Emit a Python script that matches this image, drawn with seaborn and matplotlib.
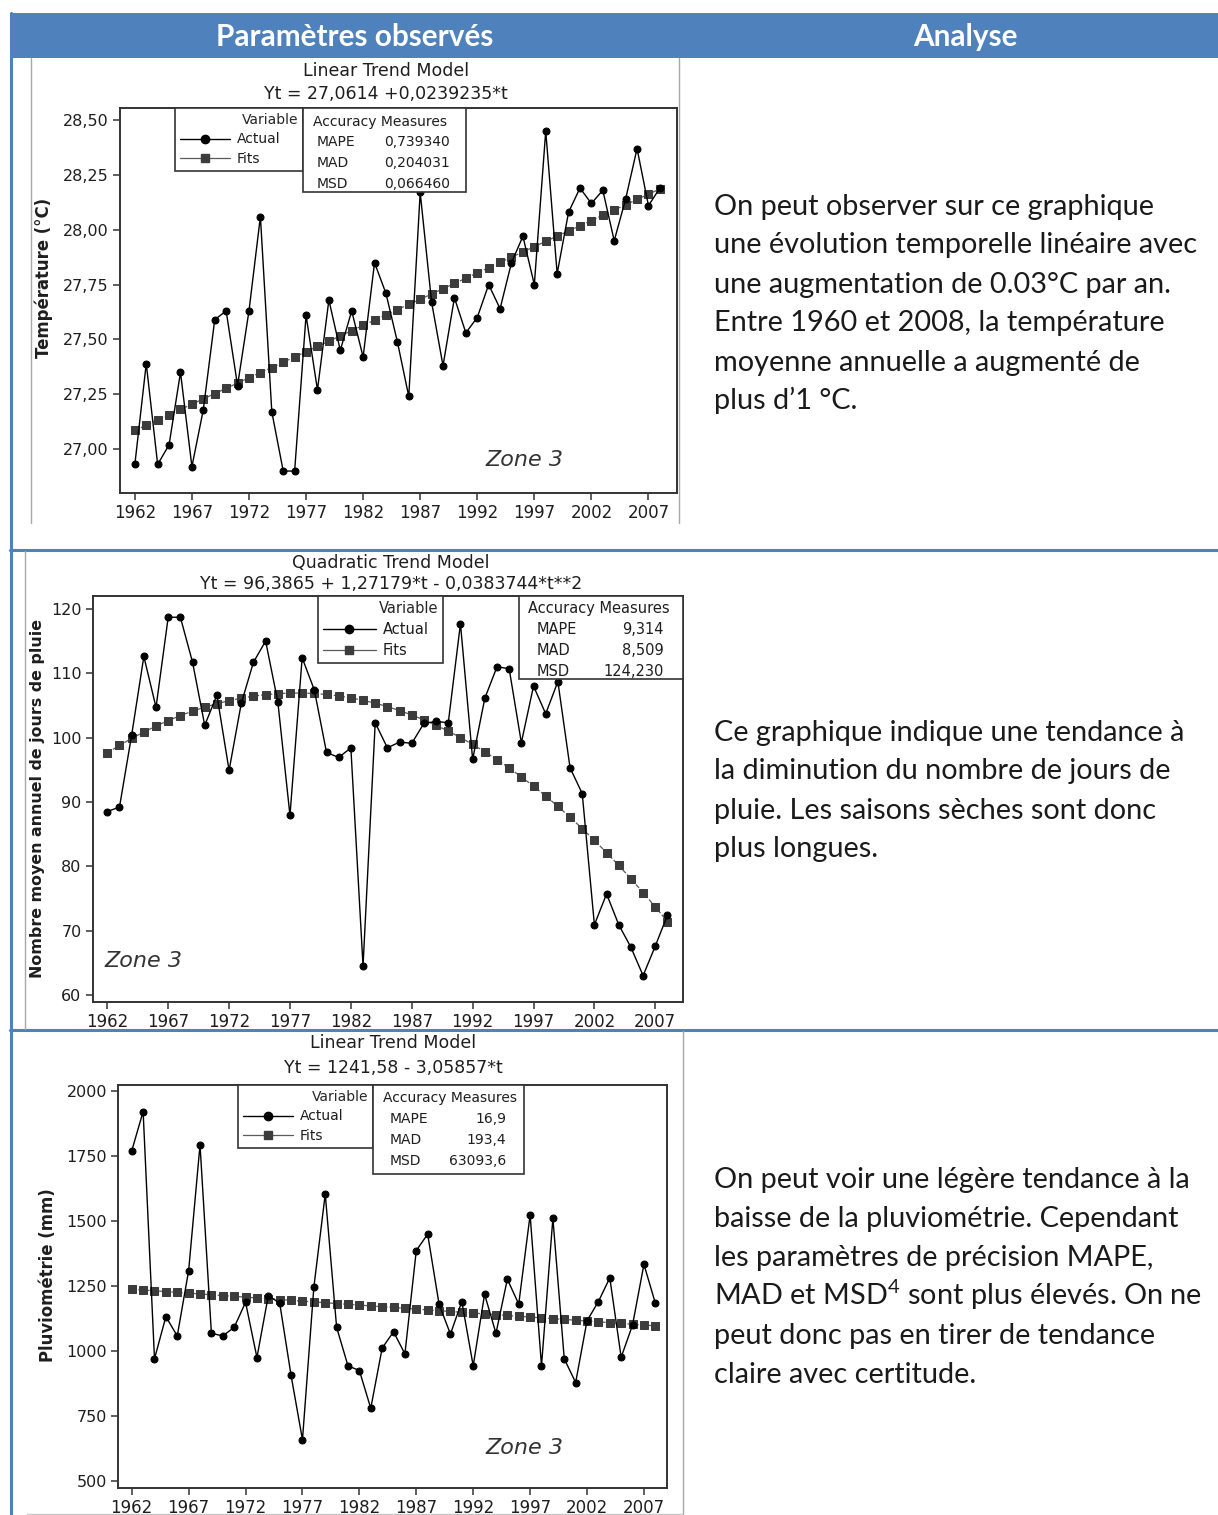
import matplotlib
matplotlib.use("Agg")
import matplotlib.pyplot as plt
import seaborn as sns
from matplotlib.patches import Rectangle
from matplotlib.lines import Line2D

# ---- data (Zone 3) ----
years = list(range(1962, 2009))
xticks = [1962, 1967, 1972, 1977, 1982, 1987, 1992, 1997, 2002, 2007]

temp_actual = [26.93, 27.39, 26.93, 27.02, 27.35, 26.92, 27.18, 27.59, 27.63, 27.29,
               27.63, 28.06, 27.17, 26.90, 26.90, 27.61, 27.27, 27.68, 27.45, 27.63,
               27.42, 27.85, 27.71, 27.49, 27.24, 28.17, 27.67, 27.38, 27.69, 27.53,
               27.60, 27.75, 27.64, 27.85, 27.97, 27.75, 28.45, 27.80, 28.08, 28.19,
               28.12, 28.18, 27.95, 28.14, 28.37, 28.11, 28.19]
temp_fits = [27.085, 27.109, 27.133, 27.157, 27.181, 27.205, 27.229, 27.253, 27.277, 27.301,
             27.325, 27.349, 27.372, 27.396, 27.420, 27.444, 27.468, 27.492, 27.516, 27.540,
             27.564, 27.588, 27.612, 27.636, 27.660, 27.683, 27.707, 27.731, 27.755, 27.779,
             27.803, 27.827, 27.851, 27.875, 27.899, 27.923, 27.947, 27.971, 27.994, 28.018,
             28.042, 28.066, 28.090, 28.114, 28.138, 28.162, 28.186]
temp_yticks = [27.00, 27.25, 27.50, 27.75, 28.00, 28.25, 28.50]
temp_ylabels = ["27,00", "27,25", "27,50", "27,75", "28,00", "28,25", "28,50"]

days_actual = [88.5, 89.2, 100.4, 112.6, 104.7, 118.7, 118.7, 111.7, 101.9, 106.6,
               94.9, 105.3, 111.7, 115.0, 105.6, 87.9, 112.4, 107.4, 97.7, 96.9,
               98.4, 64.5, 102.3, 98.4, 99.3, 99.1, 102.2, 102.5, 102.3, 117.7,
               96.6, 106.1, 111.0, 110.7, 99.2, 108.0, 103.7, 108.7, 95.3, 91.3,
               70.9, 75.7, 70.9, 67.4, 63.0, 67.6, 72.4]
days_fits = [97.62, 98.78, 99.86, 100.86, 101.79, 102.64, 103.41, 104.11, 104.72, 105.27,
             105.73, 106.12, 106.44, 106.67, 106.83, 106.91, 106.92, 106.85, 106.70, 106.47,
             106.17, 105.79, 105.34, 104.81, 104.20, 103.51, 102.75, 101.91, 101.00, 100.00,
             98.93, 97.79, 96.57, 95.27, 93.89, 92.44, 90.91, 89.30, 87.62, 85.86,
             84.02, 82.11, 80.12, 78.05, 75.91, 73.69, 71.39]
days_yticks = [60, 70, 80, 90, 100, 110, 120]
days_ylabels = ["60", "70", "80", "90", "100", "110", "120"]

rain_actual = [1770, 1921, 971, 1133, 1059, 1310, 1793, 1069, 1059, 1092,
               1188, 976, 1214, 1185, 907, 660, 1246, 1604, 1092, 944,
               926, 781, 1012, 1075, 990, 1387, 1450, 1181, 1066, 1191,
               944, 1219, 1069, 1277, 1181, 1524, 944, 1511, 971, 880,
               1117, 1191, 1282, 977, 1101, 1334, 1185]
rain_fits = [1238.5, 1235.5, 1232.4, 1229.3, 1226.3, 1223.2, 1220.2, 1217.1, 1214.1, 1211.0,
             1207.9, 1204.9, 1201.8, 1198.8, 1195.7, 1192.6, 1189.6, 1186.5, 1183.5, 1180.4,
             1177.4, 1174.3, 1171.2, 1168.2, 1165.1, 1162.1, 1159.0, 1155.9, 1152.9, 1149.8,
             1146.8, 1143.7, 1140.7, 1137.6, 1134.5, 1131.5, 1128.4, 1125.4, 1122.3, 1119.2,
             1116.2, 1113.1, 1110.1, 1107.0, 1104.0, 1100.9, 1097.8]
rain_yticks = [500, 750, 1000, 1250, 1500, 1750, 2000]
rain_ylabels = ["500", "750", "1000", "1250", "1500", "1750", "2000"]

measure_names = ["MAPE", "MAD", "MSD"]
temp_measures = ["0,739340", "0,204031", "0,066460"]
days_measures = ["9,314", "8,509", "124,230"]
rain_measures = ["16,9", "193,4", "63093,6"]

text_temp = ["On peut observer sur ce graphique",
             "une évolution temporelle linéaire avec",
             "une augmentation de 0.03°C par an.",
             "Entre 1960 et 2008, la température",
             "moyenne annuelle a augmenté de",
             "plus d’1 °C."]
text_days = ["Ce graphique indique une tendance à",
             "la diminution du nombre de jours de",
             "pluie. Les saisons sèches sont donc",
             "plus longues."]
text_rain = ["On peut voir une légère tendance à la",
             "baisse de la pluviométrie. Cependant",
             "les paramètres de précision MAPE,",
             "MAD et MSD$^{4}$ sont plus élevés. On ne",
             "peut donc pas en tirer de tendance",
             "claire avec certitude."]

W, H = 1218, 1515
BLUE = "#4F81BD"
INK = "#1e1e1e"

sns.set_theme(style="white")
plt.rcParams["font.family"] = ["DejaVu Sans"]
plt.rcParams["mathtext.fontset"] = "custom"
plt.rcParams["mathtext.rm"] = "Lato"

fig = plt.figure(figsize=(W / 100, H / 100), dpi=100)
renderer = fig.canvas.get_renderer()


def fx(x):
    return x / W


def fy(y):
    return 1 - y / H


def fit_size(text, target, **kw):
    t = fig.text(0, 0, text, fontsize=20, **kw)
    w = t.get_window_extent(renderer).width
    t.remove()
    return 20 * target / w


def box(x0, y0, x1, y1, **kw):
    fig.add_artist(Rectangle((fx(x0), fy(y1)), (x1 - x0) / W, (y1 - y0) / H,
                             transform=fig.transFigure, **kw))


def hline(x0, x1, y, color, lw):
    fig.add_artist(Line2D([fx(x0), fx(x1)], [fy(y), fy(y)], transform=fig.transFigure,
                          color=color, lw=lw, zorder=6))


def vline(x, y0, y1, color, lw):
    fig.add_artist(Line2D([fx(x), fx(x)], [fy(y0), fy(y1)], transform=fig.transFigure,
                          color=color, lw=lw, zorder=6))


def draw_panel(frame, actual, fits, xlim, ylim, yticks, ylabels, title, equation,
               title_y, eq_y, center_x, ylabel, ylabel_x, ylabel_y, ylabel_len,
               zone_xy, var_box, acc_box, acc_rows, acc_vals, fs):
    left, top, right, bottom = frame
    ax = fig.add_axes([fx(left), fy(bottom), (right - left) / W, (bottom - top) / H])
    sns.lineplot(x=years, y=fits, ax=ax, color="#5a5a5a", linestyle="--", linewidth=0.9,
                 marker="s", markersize=5.5, markerfacecolor="#3c3c3c",
                 markeredgecolor="#3c3c3c", legend=False)
    sns.lineplot(x=years, y=actual, ax=ax, color="black", linewidth=1.0,
                 marker="o", markersize=5, markerfacecolor="black",
                 markeredgecolor="black", legend=False)
    ax.set_xlim(*xlim)
    ax.set_ylim(*ylim)
    ax.set_xticks(xticks)
    ax.set_xticklabels([str(v) for v in xticks])
    ax.set_yticks(yticks)
    ax.set_yticklabels(ylabels)
    ax.set_xlabel("")
    ax.set_ylabel("")
    ax.grid(False)
    ax.tick_params(axis="both", direction="out", length=5, width=1.1, color="#333333",
                   bottom=True, left=True, labelcolor=INK)
    ax.tick_params(axis="x", labelsize=12, pad=3)
    ax.tick_params(axis="y", labelsize=11.5, pad=3)
    for s in ax.spines.values():
        s.set_visible(True)
        s.set_color("#333333")
        s.set_linewidth(1.4)

    fig.text(fx(center_x), fy(title_y), title, ha="center", va="center",
             fontsize=12.5, color=INK)
    fig.text(fx(center_x), fy(eq_y), equation, ha="center", va="center",
             fontsize=12.5, color=INK)
    size = fit_size(ylabel, ylabel_len, fontweight="bold")
    fig.text(fx(ylabel_x), fy(ylabel_y), ylabel, rotation=90, ha="center", va="center",
             fontsize=size, fontweight="bold", color=INK)
    fig.text(fx(zone_xy[0]), fy(zone_xy[1]), "Zone 3", ha="center", va="center",
             fontsize=16, style="italic", color="#333333")

    # Minitab legend box "Variable"
    handles = [Line2D([], [], color="black", lw=1, marker="o", markersize=6),
               Line2D([], [], color="#5a5a5a", lw=0.9, marker="s", markersize=5.5,
                      markerfacecolor="#3c3c3c", markeredgecolor="#3c3c3c")]
    vx0, vx1 = var_box
    leg = ax.legend(handles, ["Actual", "Fits"], title="Variable", loc="upper left",
                    bbox_to_anchor=(fx(vx0), fy(top), (vx1 - vx0) / W, 0),
                    bbox_transform=fig.transFigure, mode="expand", borderaxespad=0,
                    fancybox=False, edgecolor="#333333", framealpha=1, fontsize=fs,
                    title_fontsize=fs, handlelength=3.6, handletextpad=0.5,
                    borderpad=0.35, labelspacing=0.4, alignment="right")
    leg.get_frame().set_linewidth(1.2)
    for t in leg.get_texts():
        t.set_color(INK)

    # "Accuracy Measures" box
    ax0, ax1, ay1, title_x, name_x, val_x, ys = acc_box
    box(ax0, top, ax1, ay1, facecolor="white", edgecolor="#333333", lw=1.2, zorder=5)
    fig.text(fx(title_x), fy(ys[0]), "Accuracy Measures", ha="left", va="center",
             fontsize=fs, color=INK, zorder=7)
    for name, val, yy in zip(acc_rows, acc_vals, ys[1:]):
        fig.text(fx(name_x), fy(yy), name, ha="left", va="center", fontsize=fs,
                 color=INK, zorder=7)
        fig.text(fx(val_x), fy(yy), val, ha="right", va="center", fontsize=fs,
                 color=INK, zorder=7)
    return ax


# ---- table frame ----
box(10, 13, W, 58, facecolor=BLUE, edgecolor="none", zorder=4)
head_size = fit_size("Paramètres observés", 278, family="Lato", fontweight="bold")
fig.text(fx(355), fy(46), "Paramètres observés", ha="center", va="baseline",
         fontsize=head_size, family="Lato", fontweight="bold", color="white", zorder=7)
fig.text(fx(965), fy(46), "Analyse", ha="center", va="baseline",
         fontsize=head_size, family="Lato", fontweight="bold", color="white", zorder=7)

vline(11, 13, H, BLUE, 2.2)
hline(10, W, 550, BLUE, 2.2)
hline(10, W, 1030, BLUE, 2.2)
vline(30.5, 58, 523, "#a8a8a8", 1)
vline(679, 58, 523, "#a8a8a8", 1)
vline(24.5, 551, 1029, "#a8a8a8", 1)
vline(682.5, 1031, H, "#a8a8a8", 1)
hline(27, 683, 1514, "#c8c8c8", 1)

# ---- charts ----
draw_panel((120, 108, 677, 493), temp_actual, temp_fits,
           (1960.7, 2009.5), (26.80, 28.555), temp_yticks, temp_ylabels,
           "Linear Trend Model", "Yt = 27,0614 +0,0239235*t", 71, 94, 386,
           "Température (°C)", 44, 278, 160, (524, 460), (175, 303),
           (303, 466, 192, 313, 317, 450, [122, 142, 163, 184]),
           measure_names, temp_measures, 10)

draw_panel((92.7, 596, 683.3, 1002), days_actual, days_fits,
           (1960.8, 2009.3), (58.9, 122.0), days_yticks, days_ylabels,
           "Quadratic Trend Model", "Yt = 96,3865 + 1,27179*t - 0,0383744*t**2",
           563, 584, 391, "Nombre moyen annuel de jours de pluie", 38, 799, 358,
           (143, 961), (318, 443), (519, 683.3, 679, 528, 537, 664, [609, 630, 651, 671]),
           measure_names, days_measures, 10.5)

draw_panel((118.3, 1085, 666.7, 1488), rain_actual, rain_fits,
           (1960.82, 2009.0), (474.7, 2023), rain_yticks, rain_ylabels,
           "Linear Trend Model", "Yt = 1241,58 - 3,05857*t", 1043, 1068, 393,
           "Pluviométrie (mm)", 48, 1275, 174, (524, 1448), (238, 373),
           (373, 524, 1174, 383, 390, 506, [1098, 1119, 1140, 1161]),
           measure_names, rain_measures, 10)

# ---- analysis column ----
body_size = fit_size("On peut voir une légère tendance à la", 479, family="Lato")
for lines, first in [(text_temp, 214.5), (text_days, 740.5), (text_rain, 1188)]:
    for i, line in enumerate(lines):
        fig.text(fx(714), fy(first + 39 * i), line, ha="left", va="baseline",
                 fontsize=body_size, family="Lato", color="#1a1a1a")

fig.savefig("out.png", dpi=100, facecolor="white")
